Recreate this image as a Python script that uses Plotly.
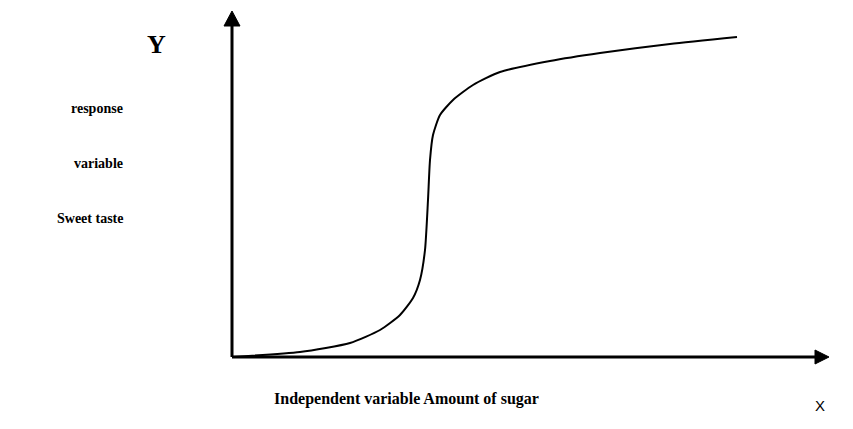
import plotly.graph_objects as go

# Curve (units: arbitrary, origin at axes corner)
curve_x = [0, 68, 118, 148, 168, 181, 188, 193, 196, 198, 201, 208, 221, 241, 268, 318, 368, 438, 505]
curve_y = [0, 5, 14, 27, 42, 59, 77, 107, 157, 197, 222, 242, 257, 272, 285, 296, 304, 313, 320]

x_label = "Independent variable Amount of sugar"
x_letter = "X"
y_letter = "Y"
y_labels = ["response", "variable", "Sweet taste"]

# figure geometry (page has an 8px body margin)
W, H = 845, 421
L, R, T, B = 212, 21, 0, 62
X_RANGE = [-12, 600]
Y_RANGE = [-10, 349]
PW, PH = W - L - R, H - T - B


def px(page_x):
    return (page_x - 8 - L) / PW


def py(page_y):
    return (H - B - (page_y - 8)) / PH


fig = go.Figure()
fig.add_trace(go.Scatter(x=curve_x, y=curve_y, mode="lines",
                         line=dict(color="black", width=2, shape="spline", smoothing=0.6),
                         hoverinfo="skip", showlegend=False))

# axes with arrows
fig.add_shape(type="line", x0=0, y0=0, x1=0, y1=334, xref="x", yref="y",
              line=dict(color="black", width=3))
fig.add_shape(type="line", x0=0, y0=0, x1=585, y1=0, xref="x", yref="y",
              line=dict(color="black", width=3))
fig.add_shape(type="path", path="M -8,331 L 8,331 L 0,346 Z", xref="x", yref="y",
              fillcolor="black", line=dict(color="black", width=1))
fig.add_shape(type="path", path="M 583,-7 L 583,7 L 597,0 Z", xref="x", yref="y",
              fillcolor="black", line=dict(color="black", width=1))

bold_times = dict(family="Liberation Serif", color="black")
fig.add_annotation(text="<b>%s</b>" % y_letter, xref="paper", yref="paper",
                   x=px(156), y=py(44), showarrow=False,
                   font=dict(size=26, **bold_times), xanchor="center", yanchor="middle")
for lbl, yy in zip(y_labels, [108, 163, 218]):
    fig.add_annotation(text="<b>%s</b>" % lbl, xref="paper", yref="paper",
                       x=px(125), y=py(yy), showarrow=False,
                       font=dict(size=14, **bold_times), xanchor="right", yanchor="middle")
fig.add_annotation(text="<b>%s</b>" % x_label, xref="paper", yref="paper",
                   x=px(406), y=py(399), showarrow=False,
                   font=dict(size=16, **bold_times), xanchor="center", yanchor="middle")
fig.add_annotation(text=x_letter, xref="paper", yref="paper",
                   x=px(820), y=py(405), showarrow=False,
                   font=dict(size=15, family="Liberation Sans", color="black"),
                   xanchor="center", yanchor="middle")

fig.update_xaxes(range=X_RANGE, visible=False, fixedrange=True)
fig.update_yaxes(range=Y_RANGE, visible=False, fixedrange=True)
fig.update_layout(width=W, height=H, margin=dict(l=L, r=R, t=T, b=B, pad=0),
                  plot_bgcolor="white", paper_bgcolor="white")
fig.write_html("out.html")
